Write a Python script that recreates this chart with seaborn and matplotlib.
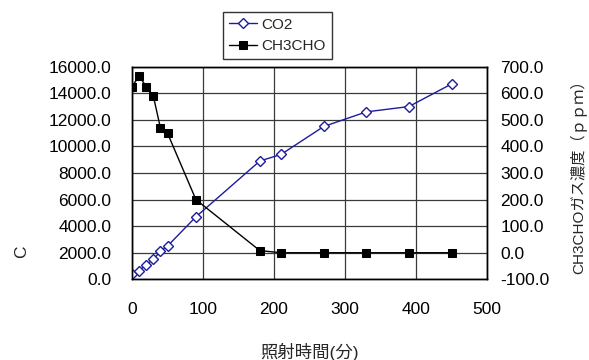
import matplotlib
matplotlib.use("Agg")
import matplotlib.pyplot as plt
import seaborn as sns
import numpy as np

# data
time_min = [0, 10, 20, 30, 40, 50, 90, 180, 210, 270, 330, 390, 450]
co2 = [400, 650, 1100, 1500, 2100, 2500, 4700, 8900, 9400, 11500, 12600, 13000, 14700]
ch3cho = [625, 665, 625, 590, 470, 450, 200, 8, 0, 0, 0, 0, 0]
x_ticks = [0, 100, 200, 300, 400, 500]
left_ticks = [0, 2000, 4000, 6000, 8000, 10000, 12000, 14000, 16000]
right_ticks = [-100, 0, 100, 200, 300, 400, 500, 600, 700]

sns.set_style("white")
plt.rcParams['font.family'] = ['Liberation Sans', 'Noto Sans CJK JP', 'DejaVu Sans']

fig = plt.figure(figsize=(5.89, 3.60), dpi=100)
ax = fig.add_axes([132/589, 1-279.3/360, (487-132)/589, (279.3-66.7)/360])
ax2 = ax.twinx()

blue = '#1c1c9c'
sns.lineplot(x=time_min, y=co2, ax=ax, color=blue, marker='D', markersize=5,
             markerfacecolor='white', markeredgecolor=blue, markeredgewidth=1.0,
             linewidth=1.0, label='CO2')
sns.lineplot(x=time_min, y=ch3cho, ax=ax2, color='black', marker='s', markersize=5.5,
             markerfacecolor='black', markeredgecolor='black',
             linewidth=1.0, label='CH3CHO')

ax.set_xlim(0, 500)
ax.set_ylim(0, 16000)
ax2.set_ylim(-100, 700)
ax.set_xticks(x_ticks)
ax.set_yticks(left_ticks)
ax2.set_yticks(right_ticks)
ax.set_xticklabels([str(t) for t in x_ticks])
ax.set_yticklabels([f"{t:.1f}" for t in left_ticks])
ax2.set_yticklabels([f"{t:.1f}" for t in right_ticks])

for a in (ax, ax2):
    a.tick_params(length=0, labelsize=12.5, colors='black')
    for s in a.spines.values():
        s.set_color('black')
        s.set_linewidth(1.0)
ax.tick_params(axis='y', pad=15)
ax.tick_params(axis='x', pad=16)
ax2.tick_params(axis='y', pad=9.5)

ax.grid(True, color='#3a3a3a', linewidth=0.9)
ax.set_axisbelow(True)

ax.set_ylabel('C', fontsize=12.5)
ax.yaxis.set_label_coords(-0.29, 0.13)
ax2.set_ylabel('CH3CHOガス濃度（ｐｐｍ）', fontsize=11, labelpad=14)
ax.set_xlabel('照射時間(分)', fontsize=12.5, labelpad=19)

h1, l1 = ax.get_legend_handles_labels()
h2, l2 = ax2.get_legend_handles_labels()
for a in (ax, ax2):
    if a.get_legend() is not None:
        a.get_legend().remove()
leg = fig.legend(h1 + h2, l1 + l2, loc='upper left',
                 bbox_to_anchor=(223/589, 1-11.5/360), fontsize=11,
                 frameon=True, fancybox=False, edgecolor='black',
                 borderpad=0.4, labelspacing=0.5, handlelength=1.8,
                 handletextpad=0.3, borderaxespad=0)
leg.get_frame().set_linewidth(1.0)

fig.savefig('out.png', dpi=100)
